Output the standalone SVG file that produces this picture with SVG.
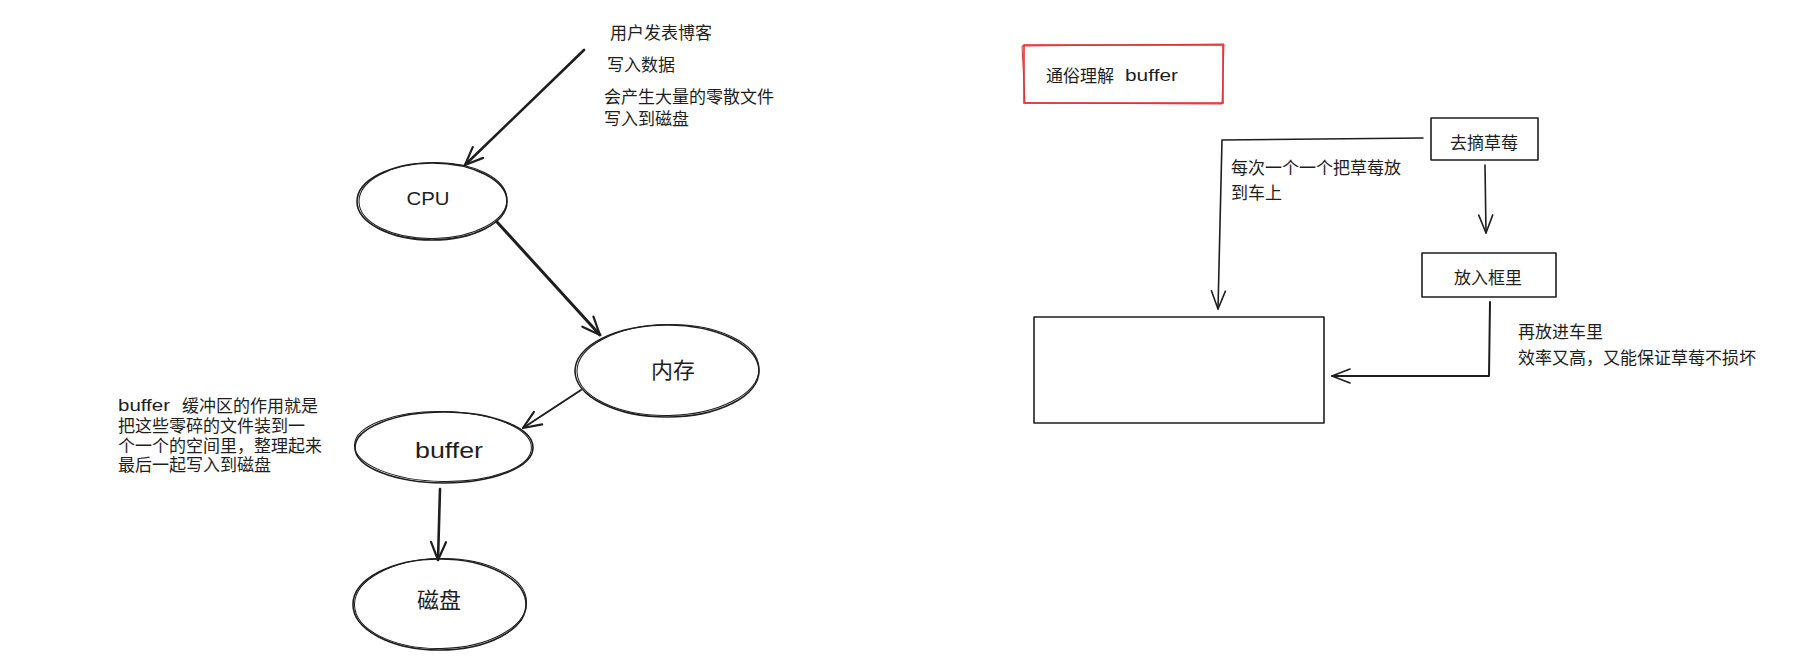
<svg xmlns="http://www.w3.org/2000/svg" width="1809" height="666" viewBox="0 0 1809 666">
<style>
.t{font-family:"Noto Sans CJK SC","Liberation Sans",sans-serif;font-size:17px;fill:#1e1e1e}
.big{font-size:22px}
.hand{font-family:"Liberation Sans","Noto Sans CJK SC",sans-serif;fill:#1e1e1e}
.sk{fill:none;stroke:#1e1e1e;stroke-width:1.6;stroke-linecap:round;stroke-linejoin:round}
.sk2{fill:none;stroke:#1e1e1e;stroke-width:1;stroke-linecap:round}
.red{fill:none;stroke:#e03131;stroke-width:1.6}
.red2{fill:none;stroke:#e03131;stroke-width:1}
.c{fill:none;stroke:#1e1e1e;stroke-linecap:round;stroke-linejoin:round}
</style>
<defs>
<marker id="ah" markerUnits="userSpaceOnUse" viewBox="0 0 24 24" markerWidth="24" markerHeight="24" refX="21" refY="12" orient="auto">
<path d="M3,4.5 L21,12 L3,19.5" fill="none" stroke="#1e1e1e" stroke-width="2.2" stroke-linecap="round" stroke-linejoin="round"/>
</marker>
<marker id="ahs" markerUnits="userSpaceOnUse" viewBox="0 0 24 24" markerWidth="24" markerHeight="24" refX="21" refY="12" orient="auto">
<path d="M3,5 L21,12 L3,19" fill="none" stroke="#1e1e1e" stroke-width="1.6" stroke-linecap="round" stroke-linejoin="round"/>
</marker>
</defs>

<g id="connectors">
<line class="c" x1="584" y1="50" x2="465" y2="165" stroke-width="2.6" marker-end="url(#ah)"/>
<line class="c" x1="497" y1="222" x2="600" y2="335" stroke-width="3" marker-end="url(#ah)"/>
<line class="c" x1="581" y1="390" x2="523" y2="428" stroke-width="2" marker-end="url(#ah)"/>
<line class="c" x1="440" y1="489" x2="438" y2="560" stroke-width="2.6" marker-end="url(#ah)"/>
<polyline class="c" points="1423,138 1222,140 1218,309" stroke-width="1.6" marker-end="url(#ahs)"/>
<line class="c" x1="1485" y1="165" x2="1486" y2="233" stroke-width="1.6" marker-end="url(#ahs)"/>
<polyline class="c" points="1490,302 1489,376 1332,376" stroke-width="2" marker-end="url(#ahs)"/>
</g>

<g id="note-top">
<text class="t" x="610" y="38.5">用户发表博客</text>
<text class="t" x="607" y="70.5">写入数据</text>
<text class="t" x="604" y="102.5">会产生大量的零散文件</text>
<text class="t" x="604" y="124.5">写入到磁盘</text>
</g>

<g id="node-cpu">
<ellipse class="sk" cx="432" cy="201.5" rx="75" ry="38.5"/>
<ellipse class="sk2" cx="433" cy="200.5" rx="74" ry="38" transform="rotate(-1 433 200.5)"/>
<text class="hand" x="428" y="205" font-size="19" text-anchor="middle" textLength="43" lengthAdjust="spacingAndGlyphs">CPU</text>
</g>

<g id="node-memory">
<ellipse class="sk" cx="667" cy="371" rx="92" ry="46"/>
<ellipse class="sk2" cx="668" cy="370" rx="91" ry="45.5" transform="rotate(-1 668 370)"/>
<text class="t big" x="673" y="378" text-anchor="middle">内存</text>
</g>

<g id="node-buffer">
<ellipse class="sk" cx="444" cy="447.5" rx="89" ry="35.5"/>
<ellipse class="sk2" cx="443" cy="446.5" rx="88.5" ry="35" transform="rotate(1 443 446.5)"/>
<text class="hand" x="449" y="458" font-size="22" text-anchor="middle" textLength="68" lengthAdjust="spacingAndGlyphs">buffer</text>
</g>

<g id="node-disk">
<ellipse class="sk" cx="439.5" cy="604.5" rx="86.5" ry="45.5"/>
<ellipse class="sk2" cx="440.5" cy="603.5" rx="86" ry="45" transform="rotate(-1 440.5 603.5)"/>
<text class="t big" x="439" y="608" text-anchor="middle">磁盘</text>
</g>

<g id="note-buffer">
<text class="hand" x="118" y="411" font-size="17" textLength="52" lengthAdjust="spacingAndGlyphs">buffer</text>
<text class="t" x="182" y="411.5">缓冲区的作用就是</text>
<text class="t" x="118" y="431.5">把这些零碎的文件装到一</text>
<text class="t" x="118" y="451.5">个一个的空间里，整理起来</text>
<text class="t" x="118" y="470.5">最后一起写入到磁盘</text>
</g>

<g id="node-title">
<rect class="red" x="1024" y="45" width="199" height="58"/>
<path class="red2" d="M1022,46 L1224,44 L1222,104 L1025,103 Z"/>
<text class="t" x="1046" y="81.5">通俗理解</text>
<text class="hand" x="1125" y="81" font-size="17" textLength="53" lengthAdjust="spacingAndGlyphs">buffer</text>
</g>

<g id="node-pick">
<rect class="sk" x="1431" y="118" width="107" height="42"/>
<text class="t" x="1484" y="148.5" text-anchor="middle">去摘草莓</text>
</g>

<g id="node-basket">
<rect class="sk" x="1422" y="253" width="134" height="44"/>
<text class="t" x="1488" y="283.5" text-anchor="middle">放入框里</text>
</g>

<g id="node-car">
<rect class="sk" x="1034" y="317" width="290" height="106"/>
</g>

<g id="note-right">
<text class="t" x="1231" y="173.5">每次一个一个把草莓放</text>
<text class="t" x="1231" y="198.5">到车上</text>
<text class="t" x="1518" y="337.5">再放进车里</text>
<text class="t" x="1518" y="363.5">效率又高，又能保证草莓不损坏</text>
</g>
</svg>
